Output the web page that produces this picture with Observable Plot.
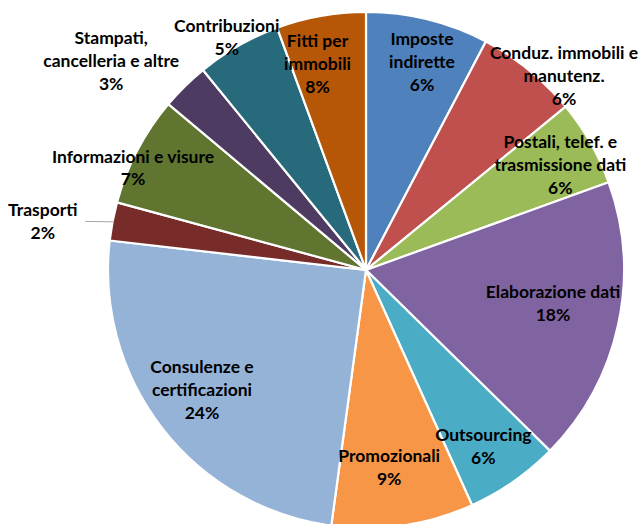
<!DOCTYPE html>
<html>
<head>
<meta charset="utf-8">
<script src="https://cdn.jsdelivr.net/npm/d3@7"></script>
<script src="https://cdn.jsdelivr.net/npm/@observablehq/plot@0.6"></script>
<style>
  html, body { margin: 0; padding: 0; background: #ffffff; }
  #chart svg { display: block; }
</style>
</head>
<body>
<div id="chart"></div>
<script>
// ---- data (clockwise from 12 o'clock) ----
const categories = [
  "Imposte\nindirette",
  "Conduz. immobili e\nmanutenz.",
  "Postali, telef. e\ntrasmissione dati",
  "Elaborazione dati",
  "Outsourcing",
  "Promozionali",
  "Consulenze e\ncertificazioni",
  "Trasporti",
  "Informazioni e visure",
  "Stampati,\ncancelleria e altre",
  "Contribuzioni",
  "Fitti per\nimmobili"
];
// slice sizes as drawn (share of the full circle, %)
const values = [7.7, 6.4, 5.4, 17.9, 5.9, 8.9, 24.7, 2.4, 6.9, 3.0, 5.3, 5.6];
// percentages as printed in the data labels
const percentLabels = ["6%", "6%", "6%", "18%", "6%", "9%", "24%", "2%", "7%", "3%", "5%", "8%"];
const colors = ["#4F81BD", "#C0504D", "#9BBB59", "#8064A2", "#4BACC6", "#F79646",
                "#95B3D7", "#772C2A", "#5F7530", "#4D3B62", "#276A7C", "#B65708"];

// ---- layout (label placement: radius as fraction of pie radius, pixel nudges) ----
const R = 258;
const labelRadius = [0.834, 1.07, 0.855, 0.736, 0.819, 0.772, 0.788, 1.27, 0.986, 1.277, 1.055, 0.82];
const labelNudge = [[4, -1], [23, 18], [2, 2], [1, -9], [-4, 1], [-6, -1], [-4, -7], [-2, 11], [-8, 14], [-24, 24], [-5, 2], [-12, 0]];
const leaderSlices = ["Trasporti"];

const table = categories.map((c, i) => ({category: c, value: values[i], pct: percentLabels[i], color: colors[i], i}));
const arcs = d3.pie().sort(null).value(d => d.value)(table);
arcs.forEach(a => { a.mid = (a.startAngle + a.endAngle) / 2; });

const labelData = arcs.map(a => {
  const i = a.data.i;
  const r = labelRadius[i];
  return {
    text: a.data.category + "\n" + a.data.pct,
    x: r * Math.sin(a.mid) + labelNudge[i][0] / R,
    y: r * Math.cos(a.mid) - labelNudge[i][1] / R
  };
});

const leaderData = arcs.filter(a => leaderSlices.includes(a.data.category)).map(a => ({
  x1: Math.sin(a.mid), y1: Math.cos(a.mid),
  x2: 1.11 * Math.sin(a.mid), y2: 1.11 * Math.cos(a.mid) - 5 / R
}));

function pieSlices(index, scales) {
  const {x, y} = scales;
  const cx = x(0), cy = y(0), r = x(1) - x(0);
  const arc = d3.arc().innerRadius(0).outerRadius(r);
  const g = d3.create("svg:g").attr("transform", `translate(${cx},${cy})`);
  g.selectAll("path").data(arcs).join("path")
    .attr("d", arc)
    .attr("fill", d => d.data.color)
    .attr("stroke", "#ffffff")
    .attr("stroke-width", 2.2)
    .attr("stroke-linejoin", "round");
  return g.node();
}

const chart = Plot.plot({
  width: 644,
  height: 524,
  margin: 0,
  x: {domain: [-1, 1], range: [366 - R, 366 + R], axis: null},
  y: {domain: [-1, 1], range: [270 + R, 270 - R], axis: null},
  style: {fontFamily: "Lato, sans-serif", background: "#ffffff"},
  marks: [
    pieSlices,
    Plot.link(leaderData, {x1: "x1", y1: "y1", x2: "x2", y2: "y2", stroke: "#A6A6A6", strokeWidth: 1}),
    Plot.text(labelData, {
      x: "x", y: "y", text: "text",
      fontSize: 17.5, fontWeight: "bold", fill: "#000000",
      lineHeight: 23 / 17.5, textAnchor: "middle", lineAnchor: "middle"
    })
  ]
});
document.getElementById("chart").appendChild(chart);
</script>
</body>
</html>
